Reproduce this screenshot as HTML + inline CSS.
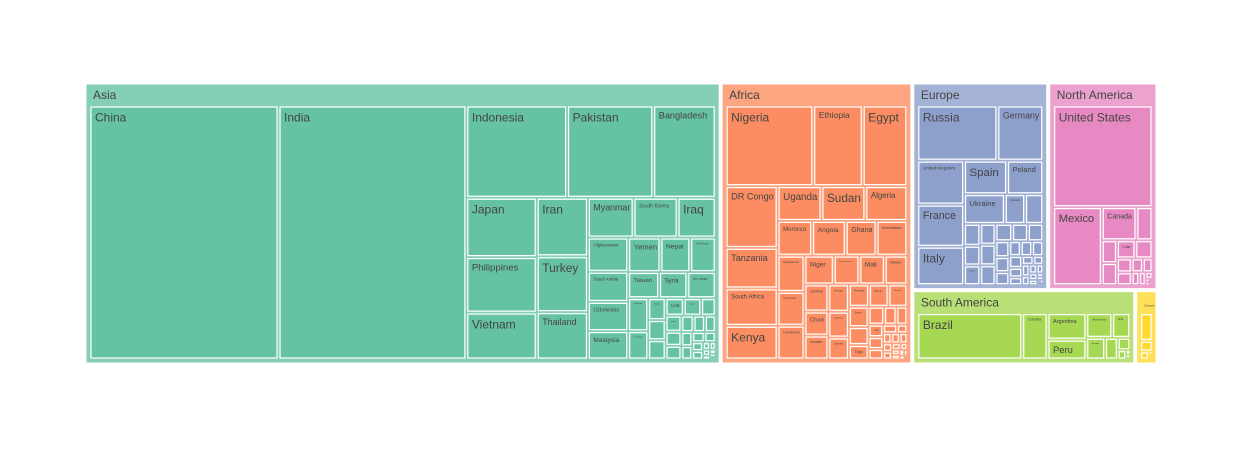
<!DOCTYPE html>
<html><head><meta charset="utf-8">
<style>
html,body{margin:0;padding:0;background:#fff;}
svg{display:block;font-family:"Liberation Sans",Arial,sans-serif;}
</style></head>
<body>
<svg id="chart" width="1242" height="450" viewBox="0 0 1242 450"></svg>
<script>
// ---- data (population, millions) ----
const continents = ["Asia","Africa","Europe","North America","South America","Oceania"];
const continentColors = ["#66c2a5","#fc8d62","#8da0cb","#e78ac3","#a6d854","#ffd92f"];
const asiaNames = ["China","India","Indonesia","Pakistan","Bangladesh","Japan","Philippines","Vietnam","Iran","Turkey","Thailand","Myanmar","South Korea","Iraq","Afghanistan","Yemen","Nepal","Saudi Arabia","Uzbekistan","Malaysia","North Korea","Taiwan","Syria","Sri Lanka","Kazakhstan","Cambodia","Jordan","Azerbaijan","Tajikistan","UAE","Israel","Hong Kong","Laos","Kyrgyzstan","Turkmenistan","Singapore","Lebanon","Palestine","Oman","Kuwait","Georgia","Mongolia","Armenia","Qatar","Bahrain","Timor-Leste","Cyprus","Bhutan","Macau","Maldives","Brunei"];
const asiaValues = [1426,1417,276,236,171,124,116,98,89,85,72,54,52,45,41,33,30.5,36,35,34,26,24,22,22,19.6,16.8,11.3,10.4,10,9.4,9,7.5,7.5,6.6,6.4,5.9,5.5,5.2,4.6,4.3,3.7,3.4,2.8,2.7,1.5,1.3,1.25,0.78,0.7,0.52,0.45];
const africaNames = ["Nigeria","Ethiopia","Egypt","DR Congo","Tanzania","South Africa","Kenya","Uganda","Sudan","Algeria","Morocco","Angola","Ghana","Mozambique","Madagascar","Ivory Coast","Cameroon","Niger","Burkina Faso","Mali","Malawi","Zambia","Chad","Somalia","Senegal","Zimbabwe","Guinea","Rwanda","Benin","Burundi","Tunisia","South Sudan","Togo","Sierra Leone","Libya","Congo","CAR","Liberia","Mauritania","Eritrea","Gambia","Namibia","Botswana","Gabon","Lesotho","Guinea-Bissau","Eq. Guinea","Mauritius","Eswatini","Djibouti","Comoros","Cape Verde","W. Sahara","Sao Tome","Seychelles"];
const africaValues = [218,123,111,99,65,60,54,47,47,45,37,36,33,33,30,28,28,26,22.7,22.6,20,20,17.7,17.6,17.3,16.3,13.9,13.8,13.4,12.9,12.4,10.9,8.8,8.6,6.8,6,5.6,5.3,4.7,3.7,2.7,2.6,2.6,2.4,2.3,2.1,1.7,1.3,1.2,1.1,0.84,0.59,0.58,0.23,0.1];
const europeNames = ["Russia","Germany","United Kingdom","France","Italy","Spain","Poland","Ukraine","Romania","Netherlands","Belgium","Czechia","Sweden","Greece","Portugal","Hungary","Belarus","Austria","Switzerland","Serbia","Bulgaria","Denmark","Slovakia","Finland","Norway","Ireland","Croatia","Moldova","Bosnia","Albania","Lithuania","North Macedonia","Slovenia","Latvia","Kosovo","Estonia","Luxembourg","Montenegro","Malta","Iceland","Andorra","Liechtenstein","Monaco","San Marino"];
const europeValues = [145,83,67.5,64.6,59,47.5,39.9,39.7,19.7,17.6,11.7,10.5,10.5,10.4,10.3,9.9,9.5,9,8.7,7.2,6.8,5.9,5.6,5.5,5.4,5,4,3.3,3.2,2.8,2.75,2.1,2.1,1.85,1.66,1.33,0.65,0.63,0.53,0.37,0.08,0.039,0.036,0.034];
const northAmericaNames = ["United States","Mexico","Canada","Guatemala","Haiti","Dominican Rep.","Cuba","Honduras","Nicaragua","El Salvador","Costa Rica","Panama","Puerto Rico","Jamaica","Trinidad","Bahamas","Belize","Barbados","Saint Lucia","Grenada","St. Vincent"];
const northAmericaValues = [338,127,38.5,17.8,11.6,11.2,11.2,10.4,6.9,6.3,5.2,4.4,3.25,2.8,1.5,0.41,0.4,0.28,0.18,0.13,0.1];
const southAmericaNames = ["Brazil","Colombia","Argentina","Peru","Venezuela","Chile","Ecuador","Bolivia","Paraguay","Uruguay","Guyana","Suriname","French Guiana"];
const southAmericaValues = [215,51.9,45.5,34,28.3,19.6,18,12.2,6.8,3.4,0.8,0.6,0.3];
const oceaniaNames = ["Australia","Papua New Guinea","New Zealand","Fiji","Solomon Islands","Vanuatu","Samoa","Kiribati"];
const oceaniaValues = [26,10.1,5.2,0.93,0.72,0.33,0.22,0.13];
const countryNames = [asiaNames,africaNames,europeNames,northAmericaNames,southAmericaNames,oceaniaNames];
const countryValues = [asiaValues,africaValues,europeValues,northAmericaValues,southAmericaValues,oceaniaValues];

// ---- squarify (d3 style, ratio 1) ----
function squarify(nodes, x0, y0, x1, y1){
  let value = nodes.reduce((s,n)=>s+n.value,0);
  let i0=0,i1=0,n=nodes.length;
  while(i0<n){
    const dx=x1-x0, dy=y1-y0;
    let sumValue; do { sumValue = nodes[i1++].value; } while(!sumValue && i1<n);
    let minValue=sumValue,maxValue=sumValue;
    const alpha=Math.max(dy/dx,dx/dy)/value;
    let beta=sumValue*sumValue*alpha;
    let minRatio=Math.max(maxValue/beta,beta/minValue);
    for(;i1<n;++i1){
      const nv=nodes[i1].value; sumValue+=nv;
      if(nv<minValue)minValue=nv; if(nv>maxValue)maxValue=nv;
      beta=sumValue*sumValue*alpha;
      const nr=Math.max(maxValue/beta,beta/minValue);
      if(nr>minRatio){sumValue-=nv;break;}
      minRatio=nr;
    }
    const row=nodes.slice(i0,i1);
    if(dx<dy){
      const ny=value?y0+dy*sumValue/value:y1;
      let x=x0; const k=sumValue?(x1-x0)/sumValue:0;
      row.forEach(c=>{c.x0=x;c.x1=x+=c.value*k;c.y0=y0;c.y1=ny;});
      y0=ny;
    } else {
      const nx=value?x0+dx*sumValue/value:x1;
      let y=y0; const k=sumValue?(y1-y0)/sumValue:0;
      row.forEach(c=>{c.y0=y;c.y1=y+=c.value*k;c.x0=x0;c.x1=nx;});
      x0=nx;
    }
    value-=sumValue; i0=i1;
  }
}

const NS="http://www.w3.org/2000/svg";
const svg=document.getElementById('chart');
function mk(tag,attrs){const e=document.createElementNS(NS,tag);for(const k in attrs)e.setAttribute(k,attrs[k]);return e;}
function lighten(hex,a){const r=parseInt(hex.slice(1,3),16),g=parseInt(hex.slice(3,5),16),b=parseInt(hex.slice(5,7),16);
  return `rgb(${Math.round(r*a+255*(1-a))},${Math.round(g*a+255*(1-a))},${Math.round(b*a+255*(1-a))})`;}
function fitFont(label,w,h,cap){
  const fs=Math.min(cap,(w-8)/(label.length*0.56),(h-6)/1.15);
  return fs;
}

// root layout
const P=1.5;
const roots=continents.map((c,i)=>({name:c,idx:i,value:countryValues[i].reduce((a,b)=>a+b,0)}));
roots.sort((a,b)=>b.value-a.value);
squarify(roots,86-P,84-P,1156+P,363+P);
const padT=23,padS=5;
roots.forEach(ct=>{
  const x0=ct.x0+P,y0=ct.y0+P,x1=ct.x1-P,y1=ct.y1-P;
  const g=mk('g',{});
  
  
  svg.appendChild(g);
  const color=continentColors[ct.idx];
  const r=mk('rect',{x:x0,y:y0,width:x1-x0,height:y1-y0,fill:lighten(color,0.8),stroke:'#fff','stroke-width':1});
  
  
  g.appendChild(r);
  const cfs=Math.min(12,(x1-x0-8)/(ct.name.length*0.56));
  if(cfs>=2){
    const t=mk('text',{x:x0+7,y:y0+15,'font-size':cfs.toFixed(1),fill:'#444'});
    t.textContent=ct.name;
    
    
    g.appendChild(t);
  }
  const kids=countryNames[ct.idx].map((n,j)=>({name:n,value:countryValues[ct.idx][j]}));
  kids.sort((a,b)=>b.value-a.value);
  squarify(kids,x0+padS-P,y0+padT-P,x1-padS+P,y1-padS+P);
  kids.forEach(k=>{
    const a=k.x0+P,b=k.y0+P,w=Math.max(0,k.x1-k.x0-2*P),h=Math.max(0,k.y1-k.y0-2*P);
    const rr=mk('rect',{x:a,y:b,width:w,height:h,fill:color,stroke:'#fff','stroke-width':1.2});
    
    
    g.appendChild(rr);
    const fs=fitFont(k.name,w,h,12);
    if(fs>=1.5){
      const t=mk('text',{x:a+4,y:b+3+fs*0.95,'font-size':fs.toFixed(2),fill:'#444'});
      t.textContent=k.name;
      
      
      g.appendChild(t);
    }
  });
});
</script>
</body></html>
